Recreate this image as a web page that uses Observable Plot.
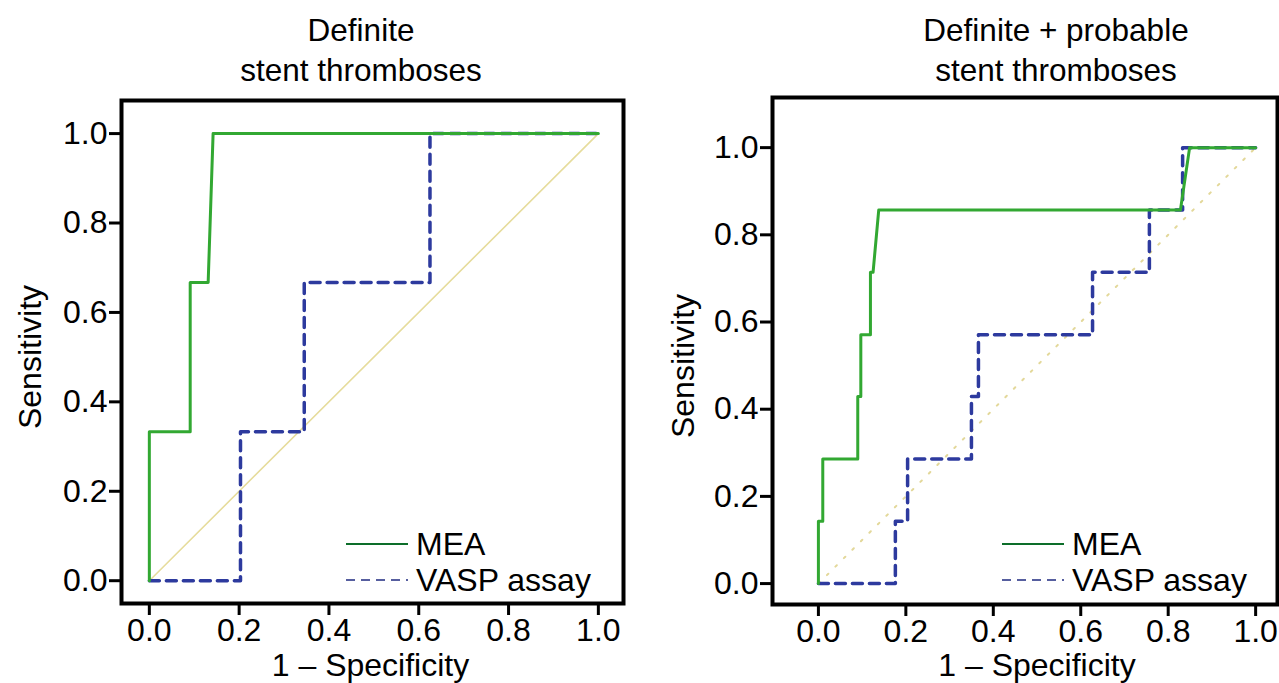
<!DOCTYPE html>
<html><head><meta charset="utf-8">
<script src="https://cdn.jsdelivr.net/npm/d3@7"></script>
<script src="https://cdn.jsdelivr.net/npm/@observablehq/plot@0.6"></script>
<style>
body{margin:0;background:#fff;font-family:"Liberation Sans",Arial,Helvetica,sans-serif;}
#root{position:relative;width:1279px;height:683px;overflow:hidden;background:#fff;}
.panel{position:absolute;top:0;}
.title{position:absolute;font-size:31.5px;line-height:40px;text-align:center;color:#000;white-space:nowrap;transform:translateX(-50%);}
.leg{position:absolute;font-size:32px;color:#000;white-space:nowrap;line-height:36px;}
</style></head><body><div id="root"></div><script>
// ---- data ----
const ticks = [0, 0.2, 0.4, 0.6, 0.8, 1.0];
const tickLabels = ["0.0", "0.2", "0.4", "0.6", "0.8", "1.0"];
const seriesNames = ["MEA", "VASP assay"];
const titleLeft = ["Definite", "stent thromboses"];
const titleRight = ["Definite + probable", "stent thromboses"];
const xLabel = "1 – Specificity";
const yLabel = "Sensitivity";

// Definite stent thromboses
const defMeaFpr  = [0, 0, 0.091, 0.091, 0.131, 0.142, 1];
const defMeaTpr  = [0, 0.333, 0.333, 0.667, 0.667, 1, 1];
const defVaspFpr = [0, 0.203, 0.203, 0.345, 0.345, 0.625, 0.625, 1];
const defVaspTpr = [0, 0, 0.333, 0.333, 0.667, 0.667, 1, 1];

// Definite + probable stent thromboses
const probMeaFpr  = [0, 0, 0.01, 0.01, 0.09, 0.09, 0.097, 0.097, 0.119, 0.119, 0.125, 0.138, 0.828, 0.849, 1];
const probMeaTpr  = [0, 0.143, 0.143, 0.286, 0.286, 0.429, 0.429, 0.571, 0.571, 0.714, 0.714, 0.857, 0.857, 1, 1];
const probVaspFpr = [0, 0.176, 0.176, 0.204, 0.204, 0.35, 0.35, 0.366, 0.366, 0.627, 0.627, 0.757, 0.757, 0.833, 0.833, 1];
const probVaspTpr = [0, 0, 0.143, 0.143, 0.286, 0.286, 0.429, 0.429, 0.571, 0.571, 0.714, 0.714, 0.857, 0.857, 1, 1];

// ---- helpers ----
const zip = (fx, ty) => fx.map((v, i) => ({fpr: v, tpr: ty[i]}));
const diag = [{fpr: ticks[0], tpr: ticks[0]}, {fpr: ticks[ticks.length - 1], tpr: ticks[ticks.length - 1]}];
const FONT = '"Liberation Sans", Arial, Helvetica, sans-serif';
const GREEN = "#32a832", BLUE = "#2d3a9e";
const FS = 32;

function panel(o) {
  return Plot.plot({
    width: o.width, height: o.height,
    marginLeft: o.ml, marginRight: o.mr, marginTop: o.mt, marginBottom: o.mb,
    x: {domain: o.xd}, y: {domain: o.yd},
    style: {fontFamily: FONT, fontSize: FS + "px", color: "#000", background: "transparent", overflow: "visible"},
    marks: [
      Plot.line(diag, {x: "fpr", y: "tpr", stroke: o.diagColor, strokeWidth: o.diagWidth, strokeDasharray: o.diagDash}),
      Plot.line(o.vasp, {x: "fpr", y: "tpr", stroke: BLUE, strokeWidth: 3.5, strokeDasharray: "10,7"}),
      Plot.line(o.mea, {x: "fpr", y: "tpr", stroke: GREEN, strokeWidth: 3}),
      Plot.frame({stroke: "#000", strokeWidth: 4}),
      Plot.axisX({ticks, tickFormat: d => tickLabels[ticks.indexOf(d)], tickSize: 12, tickPadding: 3, strokeWidth: 3, fontSize: FS, label: null}),
      Plot.axisY({ticks, tickFormat: d => tickLabels[ticks.indexOf(d)], tickSize: 12, tickPadding: 2, strokeWidth: 3, fontSize: FS, label: null}),
      Plot.text([xLabel], {text: d => d, frameAnchor: "bottom", textAnchor: "middle", dy: o.xlDy, dx: o.xlDx, fontSize: FS, lineAnchor: "middle"}),
      Plot.text([yLabel], {text: d => d, frameAnchor: "left", textAnchor: "middle", dx: o.ylDx, dy: o.ylDy, rotate: -90, fontSize: FS, lineAnchor: "middle"})
    ]
  });
}

const root = document.getElementById("root");

function place(node, left) {
  const d = document.createElement("div");
  d.className = "panel";
  d.style.left = left + "px";
  d.appendChild(node);
  root.appendChild(d);
}

place(panel({
  width: 640, height: 683, ml: 121, mr: 17, mt: 100, mb: 80,
  xd: [-0.062, 1.056], yd: [-0.051, 1.074],
  mea: zip(defMeaFpr, defMeaTpr), vasp: zip(defVaspFpr, defVaspTpr),
  diagColor: "#e6dc9c", diagWidth: 1.6, diagDash: null,
  xlDy: 62, xlDx: -2, ylDx: -91, ylDy: 5
}), 0);

place(panel({
  width: 639, height: 683, ml: 132, mr: 2, mt: 97, mb: 79,
  xd: [-0.105, 1.05], yd: [-0.048, 1.115],
  mea: zip(probMeaFpr, probMeaTpr), vasp: zip(probVaspFpr, probVaspTpr),
  diagColor: "#e3d89a", diagWidth: 2, diagDash: "2,10",
  xlDy: 61, xlDx: 12, ylDx: -89, ylDy: 15
}), 640);

function title(lines, cx, top) {
  lines.forEach((t, i) => {
    const d = document.createElement("div");
    d.className = "title";
    d.textContent = t;
    d.style.left = cx + "px";
    d.style.top = (top + i * 40) + "px";
    root.appendChild(d);
  });
}
title(titleLeft, 361, 10);
title(titleRight, 1056, 10);

function legend(x0, lineW, textX, ys) {
  const styles = [
    {stroke: "#0d6e2a", dash: null, w: 2.2},
    {stroke: "#1f2a80", dash: "9,6", w: 1.6}
  ];
  seriesNames.forEach((name, i) => {
    const y = ys[i];
    const ns = "http://www.w3.org/2000/svg";
    const svg = document.createElementNS(ns, "svg");
    svg.setAttribute("width", lineW);
    svg.setAttribute("height", 4);
    svg.style.position = "absolute";
    svg.style.left = x0 + "px";
    svg.style.top = (y - 2) + "px";
    const ln = document.createElementNS(ns, "line");
    ln.setAttribute("x1", 0); ln.setAttribute("x2", lineW);
    ln.setAttribute("y1", 2); ln.setAttribute("y2", 2);
    ln.setAttribute("stroke", styles[i].stroke);
    ln.setAttribute("stroke-width", styles[i].w);
    if (styles[i].dash) ln.setAttribute("stroke-dasharray", styles[i].dash);
    svg.appendChild(ln);
    root.appendChild(svg);
    const t = document.createElement("div");
    t.className = "leg";
    t.textContent = name;
    t.style.left = textX + "px";
    t.style.top = (y - 18) + "px";
    root.appendChild(t);
  });
}
legend(346, 62, 416, [544, 580]);
legend(1002, 62, 1072, [544, 580]);
</script></body></html>
